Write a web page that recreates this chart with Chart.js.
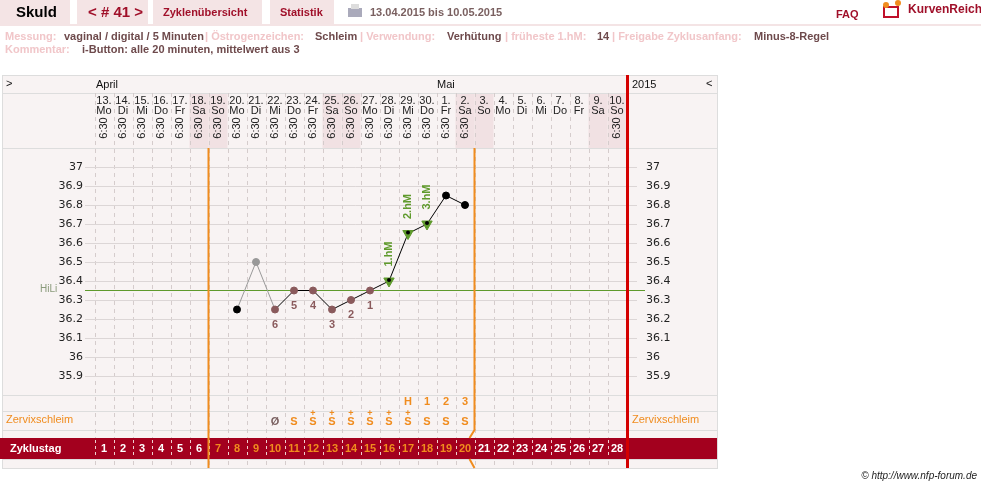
<!DOCTYPE html>
<html>
<head>
<meta charset="utf-8">
<script src="https://cdn.jsdelivr.net/npm/chart.js@4/dist/chart.umd.min.js"></script>
<style>
  body { margin: 0; background: #fff; }
  canvas { display: block; }
</style>
</head>
<body>
<canvas id="nfpChart" width="981" height="488"></canvas>
<script>
const cycleDays = Array.from({ length: 28 }, (_, i) => i + 1);
const dates = ['13.','14.','15.','16.','17.','18.','19.','20.','21.','22.','23.','24.','25.','26.','27.','28.','29.','30.','1.','2.','3.','4.','5.','6.','7.','8.','9.','10.'];
const weekdays = ['Mo','Di','Mi','Do','Fr','Sa','So','Mo','Di','Mi','Do','Fr','Sa','So','Mo','Di','Mi','Do','Fr','Sa','So','Mo','Di','Mi','Do','Fr','Sa','So'];
const times = ['6:30','6:30','6:30','6:30','6:30','6:30','6:30','6:30','6:30','6:30','6:30','6:30','6:30','6:30','6:30','6:30','6:30','6:30','6:30','6:30','','','','','','','','6:30'];
const temps = [null,null,null,null,null,null,null,36.25,36.5,36.25,36.35,36.35,36.25,36.30,36.35,36.40,36.65,36.70,36.85,36.80,null,null,null,null,null,null,null,null];
const lowCount = [null,null,null,null,null,null,null,null,null,'6','5','4','3','2','1',null,null,null,null,null,null,null,null,null,null,null,null,null];
const highLabels = [null,null,null,null,null,null,null,null,null,null,null,null,null,null,null,'1.hM','2.hM','3.hM',null,null,null,null,null,null,null,null,null,null];
const mucus = ['','','','','','','','','','Ø','S','S+','S+','S+','S+','S+','S+','S','S','S','','','','','','','',''];
const peakRow = ['','','','','','','','','','','','','','','','','H','1','2','3','','','','','','','',''];
const yTicks = [37, 36.9, 36.8, 36.7, 36.6, 36.5, 36.4, 36.3, 36.2, 36.1, 36, 35.9];
const coverLine = 36.35;

const F = '"Liberation Sans", Arial, sans-serif';
const FN = '"Liberation Sans Narrow", "Liberation Sans", Arial, sans-serif';
const PINK = '#f4e4e5';
const BG = '#f8f3f3';
const ORANGE = '#f08c1e';
const BROWN = '#8a5a5c';
const GREEN = '#5f9a2c';

function pointColor(i) {
  if (i === 8) return '#999';
  if (i >= 9 && i <= 14) return BROWN;
  if (i >= 15 && i <= 17) return GREEN;
  return '#000';
}

const pagePlugin = {
  id: 'page',
  beforeDraw(chart) {
    const c = chart.ctx, x = chart.scales.x, y = chart.scales.y;
    const col = d => x.getPixelForValue(d);
    const L = 2, R = 717, left = 94.5, right = 626.5;
    c.save();
    // header tabs
    c.fillStyle = PINK;
    [[0, 70], [77, 71], [153, 109], [270, 64]].forEach(t => c.fillRect(t[0], 0, t[1], 24));
    c.fillRect(0, 24, 981, 2);
    c.textBaseline = 'middle';
    c.font = 'bold 15px ' + F; c.fillStyle = '#000'; c.fillText('Skuld', 16, 13);
    c.fillStyle = '#a0102a'; c.font = 'bold 15px ' + F; c.fillText('< # 41 >', 88, 13);
    c.font = 'bold 11px ' + F; c.fillText('Zyklenübersicht', 163, 13); c.fillText('Statistik', 280, 13);
    c.fillText('FAQ', 836, 15);
    c.font = 'bold 12px ' + F; c.fillText('KurvenReich', 908, 10);
    c.fillStyle = '#7a6060'; c.font = 'bold 11px ' + F; c.fillText('13.04.2015 bis 10.05.2015', 370, 13);
    // printer icon
    c.fillStyle = '#aab'; c.fillRect(348, 8, 14, 9); c.fillStyle = '#ddd'; c.fillRect(351, 4, 8, 5);
    // logo
    c.strokeStyle = '#c0102a'; c.lineWidth = 2; c.strokeRect(884, 7, 14, 10);
    c.fillStyle = ORANGE; c.beginPath(); c.arc(886, 5, 3, 0, 7); c.arc(898, 3, 3, 0, 7); c.fill();
    // info lines
    const info = (xx, yy, t, lab) => { c.fillStyle = lab ? '#f1c6c9' : '#6e4a4c'; c.fillText(t, xx, yy); };
    c.font = 'bold 11px ' + F;
    info(5, 37, 'Messung:', 1); info(64, 37, 'vaginal / digital / 5 Minuten', 0);
    info(205, 37, '| Östrogenzeichen:', 1); info(315, 37, 'Schleim', 0);
    info(360, 37, '| Verwendung:', 1); info(447, 37, 'Verhütung', 0);
    info(505, 37, '| früheste 1.hM:', 1); info(597, 37, '14', 0);
    info(612, 37, '| Freigabe Zyklusanfang:', 1); info(754, 37, 'Minus-8-Regel', 0);
    info(5, 50, 'Kommentar:', 1); info(82, 50, 'i-Button: alle 20 minuten, mittelwert aus 3', 0);
    // table background
    c.fillStyle = BG; c.fillRect(L, 75, R - L, 393);
    c.strokeStyle = '#ddd'; c.lineWidth = 1;
    c.strokeRect(L + 0.5, 75.5, R - L, 393);
    // weekend shading
    c.fillStyle = '#f1e1e3';
    weekdays.forEach((w, i) => { if (w === 'Sa' || w === 'So') c.fillRect(col(i + 1) - 9.5, 93, 19, 55); });
    // horizontal row lines
    [93, 148, 395, 411, 430, 438, 459].forEach(yy => {
      c.beginPath(); c.moveTo(L, yy + 0.5); c.lineTo(R, yy + 0.5); c.stroke();
    });
    // vertical dashed column lines
    c.strokeStyle = '#d5cccc'; c.setLineDash([4, 4]);
    for (let d = 0; d <= 28; d++) {
      const xx = Math.round(left + d * 19) + 0.5;
      c.beginPath(); c.moveTo(xx, 93); c.lineTo(xx, 468); c.stroke();
    }
    c.setLineDash([]);
    // temperature grid
    c.strokeStyle = '#dcd6d6';
    yTicks.forEach(v => {
      const yy = Math.round(y.getPixelForValue(v)) + 0.5;
      c.beginPath(); c.moveTo(85, yy); c.lineTo(right, yy); c.moveTo(right, yy); c.lineTo(637, yy); c.stroke();
    });
    c.font = '11px "DejaVu Sans", sans-serif'; c.fillStyle = '#222';
    yTicks.forEach(v => {
      const yy = y.getPixelForValue(v);
      c.textAlign = 'right'; c.fillText(String(v), 83, yy);
      c.textAlign = 'left'; c.fillText(String(v), 646, yy);
    });
    // cover line
    c.strokeStyle = GREEN; c.lineWidth = 1;
    const hy = Math.round(y.getPixelForValue(coverLine)) + 0.5;
    c.beginPath(); c.moveTo(85, hy); c.lineTo(645, hy); c.stroke();
    c.font = '10px ' + F; c.fillStyle = '#8a9a7a'; c.textAlign = 'left'; c.fillText('HiLi', 40, hy - 1);
    // month row
    c.fillStyle = '#111'; c.font = '11px ' + F;
    c.fillText('>', 6, 84); c.fillText('April', 96, 85); c.fillText('Mai', 437, 85);
    c.fillText('2015', 632, 85); c.fillText('<', 706, 84);
    // day header
    c.textAlign = 'center'; c.font = '11px ' + FN; c.fillStyle = '#222';
    cycleDays.forEach((d, i) => {
      const xx = col(d);
      c.fillText(dates[i], xx, 101); c.fillText(weekdays[i], xx, 111);
      if (times[i]) {
        c.save(); c.translate(xx, 128); c.rotate(-Math.PI / 2); c.fillText(times[i], 0, 0); c.restore();
      }
    });
    // peak / mucus rows
    c.font = 'bold 11px ' + F;
    cycleDays.forEach((d, i) => {
      const xx = col(d);
      if (peakRow[i]) { c.fillStyle = ORANGE; c.fillText(peakRow[i], xx, 402); }
      const m = mucus[i];
      if (m) {
        c.fillStyle = m === 'Ø' ? '#7a6060' : ORANGE;
        c.fillText(m[0], xx, 422);
        if (m.length > 1) { c.font = 'bold 9px ' + F; c.fillText('+', xx, 414); c.font = 'bold 11px ' + F; }
      }
    });
    c.font = '11px ' + F; c.fillStyle = ORANGE; c.textAlign = 'left';
    c.fillText('Zervixschleim', 6, 420); c.fillText('Zervixschleim', 632, 420);
    // cycle-day bar
    c.fillStyle = '#a3001e'; c.fillRect(0, 438, R, 21);
    c.font = 'bold 11px ' + F; c.fillStyle = '#fff'; c.fillText('Zyklustag', 10, 449);
    c.textAlign = 'center';
    cycleDays.forEach(d => {
      c.fillStyle = d >= 7 && d <= 20 ? ORANGE : '#fff';
      c.fillText(String(d), col(d), 449);
    });
    c.strokeStyle = '#f0d0d0'; c.setLineDash([3, 3]);
    for (let d = 0; d <= 28; d++) {
      const xx = Math.round(left + d * 19) + 0.5;
      c.beginPath(); c.moveTo(xx, 440); c.lineTo(xx, 457); c.stroke();
    }
    c.setLineDash([]);
    // orange phase lines + red today line
    c.strokeStyle = ORANGE; c.lineWidth = 2;
    const o1 = left + 6 * 19, o2 = left + 20 * 19;
    c.beginPath(); c.moveTo(o1, 148); c.lineTo(o1, 468);
    c.moveTo(o2, 148); c.lineTo(o2, 430); c.lineTo(o2 - 5, 438);
    c.moveTo(o2 - 5, 459); c.lineTo(o2, 468); c.stroke();
    c.strokeStyle = '#d40000'; c.lineWidth = 3;
    c.beginPath(); c.moveTo(right + 1, 75); c.lineTo(right + 1, 468); c.stroke();
    // footer
    c.fillStyle = '#222'; c.font = 'italic 10px ' + F; c.textAlign = 'right';
    c.fillText('© http://www.nfp-forum.de', 977, 476);
    c.restore();
  },
  afterDatasetsDraw(chart) {
    const c = chart.ctx, meta = chart.getDatasetMeta(0);
    c.save(); c.textAlign = 'center'; c.textBaseline = 'middle';
    meta.data.forEach((p, i) => {
      if (lowCount[i]) { c.fillStyle = BROWN; c.font = 'bold 11px ' + F; c.fillText(lowCount[i], p.x, p.y + 15); }
      if (highLabels[i]) {
        c.save(); c.translate(p.x, p.y - 27); c.rotate(-Math.PI / 2);
        c.fillStyle = GREEN; c.font = 'bold 11px ' + F; c.fillText(highLabels[i], 0, 0); c.restore();
        c.fillStyle = '#000'; c.beginPath(); c.arc(p.x, p.y - 1, 2, 0, 7); c.fill();
      }
    });
    c.restore();
  }
};

new Chart(document.getElementById('nfpChart'), {
  type: 'line',
  data: {
    labels: cycleDays,
    datasets: [{
      data: temps,
      borderColor: '#000',
      borderWidth: 1,
      spanGaps: false,
      pointRadius: temps.map((t, i) => (i >= 15 && i <= 17 ? 6 : 3.5)),
      pointStyle: temps.map((t, i) => (i >= 15 && i <= 17 ? 'triangle' : 'circle')),
      pointRotation: temps.map((t, i) => (i >= 15 && i <= 17 ? 180 : 0)),
      pointBackgroundColor: temps.map((t, i) => pointColor(i)),
      pointBorderColor: temps.map((t, i) => pointColor(i)),
      segment: { borderColor: ctx => (ctx.p0DataIndex === 7 || ctx.p0DataIndex === 8 ? '#999' : '#000') }
    }]
  },
  options: {
    responsive: false,
    animation: false,
    layout: { padding: { left: 94.5, right: 981 - 626.5, top: 148, bottom: 488 - 395 } },
    plugins: { legend: { display: false }, tooltip: { enabled: false } },
    scales: {
      x: { type: 'linear', min: 0.5, max: 28.5, display: false },
      y: { min: 35.8, max: 37.1, display: false }
    }
  },
  plugins: [pagePlugin]
});
</script>
</body>
</html>
